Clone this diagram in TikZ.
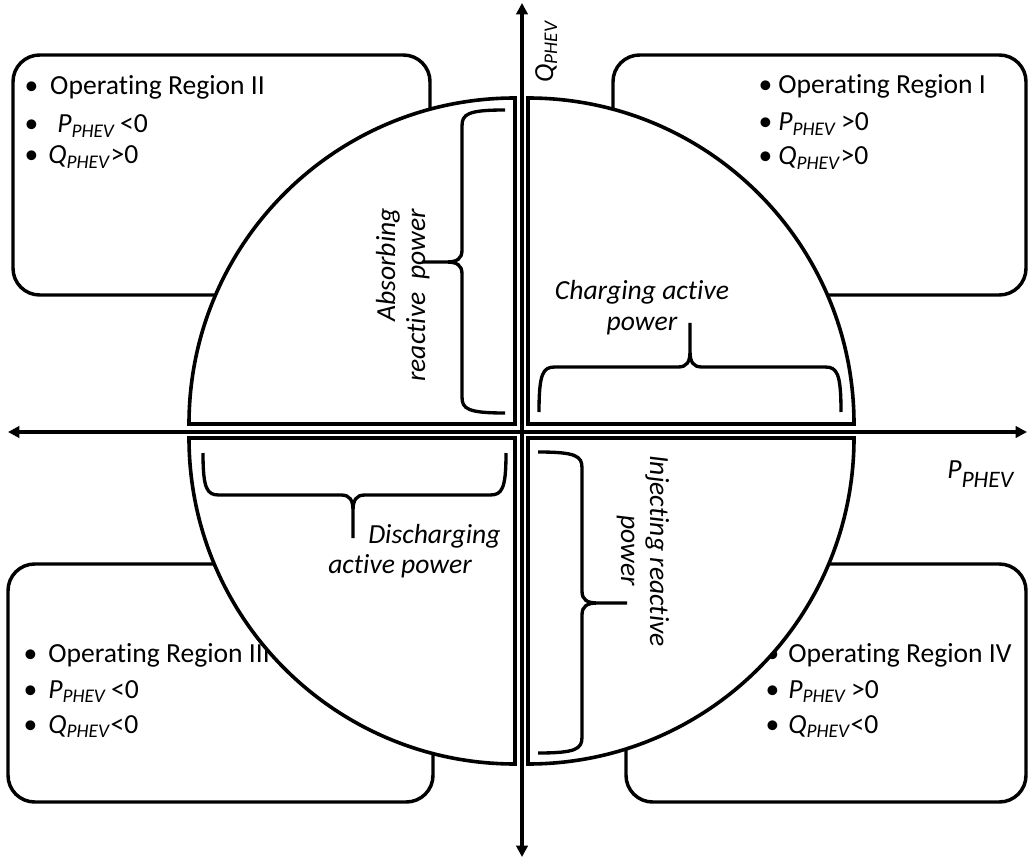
\documentclass[tikz,border=0pt]{standalone}
\usepackage{fontspec}
\setmainfont{Carlito}[Ligatures=NoCommon]
\usetikzlibrary{arrows.meta}
\newlength\px \setlength\px{0.75pt}
\newcommand\bl[2]{\llap{\textbullet\hspace{#1\px}}#2}
\newcommand\Pphev{\textit{P}\textsubscript{\textit{PHEV}}}
\newcommand\Qphev{\textit{Q}\textsubscript{\textit{PHEV}}}
\tikzset{
  regionbox/.style={draw=black, line width=2.6pt, fill=white, rounded corners=20pt},
  sector/.style={draw=black, line width=2.7pt, fill=white, line join=miter},
  bracestyle/.style={draw=black, line width=2.5pt},
  axisline/.style={line width=3pt, {Triangle[length=8.5pt,width=8.5pt]}-{Triangle[length=8.5pt,width=8.5pt]}},
  txt/.style={inner sep=0pt, font=\fontsize{20.7}{25}\selectfont},
  ltxt/.style={inner sep=0pt, font=\fontsize{20.7}{25}\selectfont\itshape},
}
% vertical brace: tips x, spine x, point x, top y, middle y, bottom y
\newcommand\vbrace[6]{%
  \pgfmathsetmacro\bd{(#1>#2)?1:-1}
  \draw[bracestyle] (#1,#4) .. controls ({#2+6*\bd},#4) and (#2,{#4+4}) .. (#2,{#4+16})
    -- (#2,{#5-12}) .. controls (#2,{#5-3}) and ({#2-5*\bd},#5) .. ({#2-16*\bd},#5) -- (#3,#5)
    ({#2-16*\bd},#5) .. controls ({#2-5*\bd},#5) and (#2,{#5+3}) .. (#2,{#5+12})
    -- (#2,{#6-16}) .. controls (#2,{#6-4}) and ({#2+6*\bd},#6) .. (#1,#6);}
% horizontal brace: tips y, spine y, point y, left x, middle x, right x
\newcommand\hbrace[6]{%
  \pgfmathsetmacro\bd{(#1>#2)?1:-1}
  \draw[bracestyle] (#4,#1) .. controls (#4,{#2+6*\bd}) and ({#4+4},#2) .. ({#4+16},#2)
    -- ({#5-12},#2) .. controls ({#5-3},#2) and (#5,{#2-5*\bd}) .. (#5,{#2-16*\bd}) -- (#5,#3)
    (#5,{#2-16*\bd}) .. controls (#5,{#2-5*\bd}) and ({#5+3},#2) .. ({#5+12},#2)
    -- ({#6-16},#2) .. controls ({#6-4},#2) and (#6,{#2+6*\bd}) .. (#6,#1);}
\begin{document}
\begin{tikzpicture}[x=0.75pt, y=-0.75pt]
\useasboundingbox[fill=white] (0,0) rectangle (1028,859);

% region boxes
\draw[regionbox] (13,55) rectangle (430,295);
\draw[regionbox] (613,55) rectangle (1026,295);
\draw[regionbox] (8,564) rectangle (433,802);
\draw[regionbox] (626,564) rectangle (1026,802);

% box texts
\node[txt, anchor=base west] (r2a) at (50,95) {\bl{12}{Operating Region II}};
\node[txt, anchor=base west] (r2b) at (57,133) {\bl{19}{\Pphev\,<0}};
\node[txt, anchor=base west] (r2c) at (48,164) {\bl{10}{\Qphev>0}};

\node[txt, anchor=base west] (r1a) at (778,94) {\bl{6}{Operating Region I}};
\node[txt, anchor=base west] (r1b) at (778,131) {\bl{6}{\Pphev\,>0}};
\node[txt, anchor=base west] (r1c) at (778,165) {\bl{6}{\Qphev>0}};

\node[txt, anchor=base west] (r3a) at (48,662) {\bl{11}{Operating Region III}};
\node[txt, anchor=base west] (r3b) at (48,698) {\bl{11}{\Pphev\,<0}};
\node[txt, anchor=base west] (r3c) at (48,733) {\bl{11}{\Qphev<0}};

\node[txt, anchor=base west] (r4a) at (788,662) {\bl{9}{Operating Region IV}};
\node[txt, anchor=base west] (r4b) at (788,698) {\bl{9}{\Pphev\,>0}};
\node[txt, anchor=base west] (r4c) at (788,733) {\bl{9}{\Qphev<0}};

% quarter sectors
\draw[sector] (528,424) -- (528,98) arc[start angle=-90, end angle=0, radius=326] -- cycle;
\draw[sector] (515,424) -- (189,424) arc[start angle=180, end angle=270, radius=326] -- cycle;
\draw[sector] (515,438) -- (515,764) arc[start angle=90, end angle=180, radius=326] -- cycle;
\draw[sector] (528,438) -- (854,438) arc[start angle=0, end angle=90, radius=326] -- cycle;

% braces
\vbrace{505}{462}{422}{110}{262}{413}
\vbrace{538}{582}{627}{452}{603}{753}
\hbrace{412}{367}{323}{539}{690}{841}
\hbrace{453}{495}{538}{203}{353}{506}

% quadrant labels
\node[ltxt, rotate=90, anchor=base east] (abs1) at (395,208) {Absorbing};
\node[ltxt, rotate=90, anchor=base east] (abs2) at (425,209) {reactive\ \ power};
\node[ltxt, anchor=base] (chg1) at (642,300) {Charging active};
\node[ltxt, anchor=base] (chg2) at (642,330) {power};
\node[ltxt, anchor=base west] (dis1) at (368,543) {Discharging};
\node[ltxt, anchor=base west] (dis2) at (328,573) {active power};
\node[ltxt, rotate=-90, anchor=base] (inj1) at (650,551) {Injecting reactive};
\node[ltxt, rotate=-90, anchor=base] (inj2) at (621,551) {power};

% axes
\coordinate (xl) at (8,432);
\coordinate (xr) at (1027,432);
\coordinate (yt) at (522,3);
\coordinate (yb) at (522,857);
\draw[axisline] (xl) -- (xr);
\draw[axisline] (yb) -- (yt);

% axis labels
\node[ltxt, anchor=base west] (plab) at (947,478) {P\raisebox{-6.75pt}{\fontsize{17.7}{18}\selectfont PHEV}};
\node[txt, rotate=90, anchor=base west] (qlab) at (553,83) {\Qphev};
\end{tikzpicture}
\end{document}
